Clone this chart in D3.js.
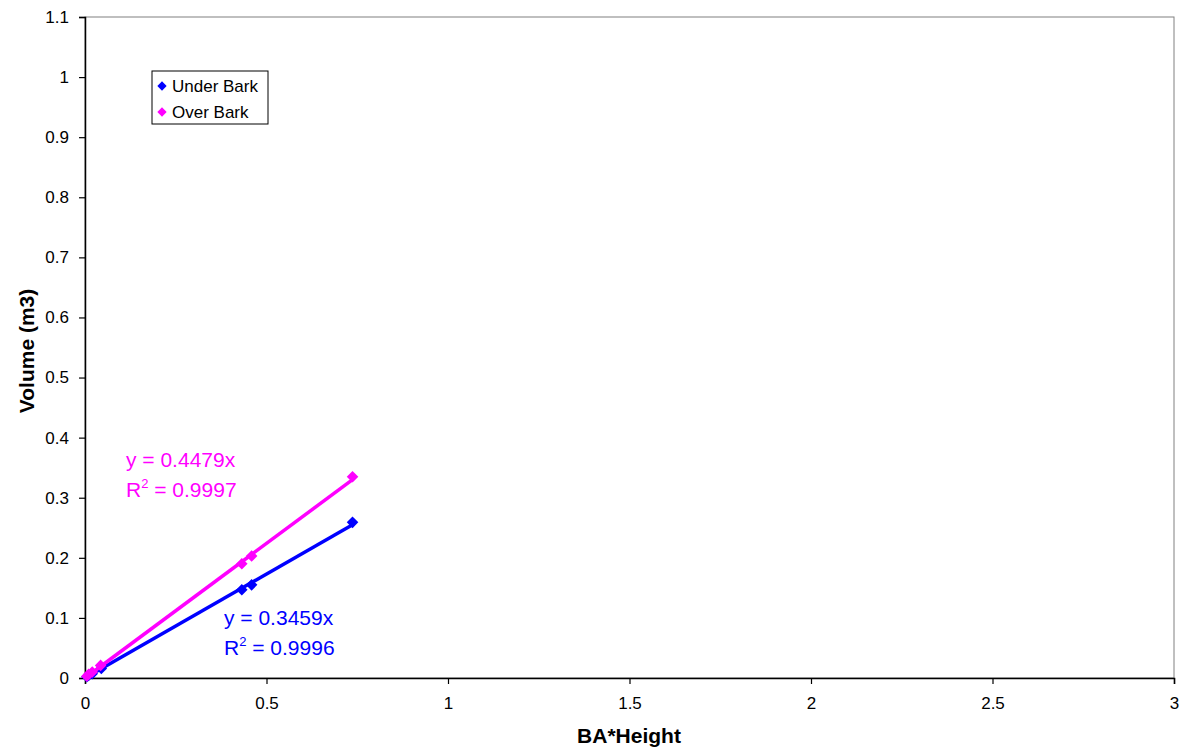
<!DOCTYPE html>
<html>
<head>
<meta charset="utf-8">
<script src="https://cdn.jsdelivr.net/npm/d3@7"></script>
<style>
  body { margin: 0; background: #fff; }
  svg text { font-family: Arial, "Liberation Sans", sans-serif; }
</style>
</head>
<body>
<div id="chart"></div>
<script>
// data
const underBark = [
    {x: 0.005, y: 0.002}, {x: 0.010, y: 0.004}, {x: 0.020, y: 0.007},
    {x: 0.045, y: 0.016}, {x: 0.432, y: 0.147}, {x: 0.459, y: 0.155},
    {x: 0.737, y: 0.259}
];
const overBark = [
    {x: 0.005, y: 0.003}, {x: 0.010, y: 0.006}, {x: 0.020, y: 0.010},
    {x: 0.043, y: 0.021}, {x: 0.432, y: 0.190}, {x: 0.459, y: 0.203},
    {x: 0.737, y: 0.335}
];
const slopes = {under: 0.3459, over: 0.4479};
const xTicks = [0, 0.5, 1, 1.5, 2, 2.5, 3];
const yTicks = [0, 0.1, 0.2, 0.3, 0.4, 0.5, 0.6, 0.7, 0.8, 0.9, 1, 1.1];

const W = 1189, H = 749;
const margin = {top: 17, right: 15, bottom: 71, left: 85};
const width = W - margin.left - margin.right;
const height = H - margin.top - margin.bottom;

const svg = d3.select("#chart").append("svg")
    .attr("width", W).attr("height", H);
const g = svg.append("g").attr("transform", `translate(${margin.left},${margin.top})`);

const x = d3.scaleLinear().domain([0, 3]).range([0, width]);
const y = d3.scaleLinear().domain([0, 1.1]).range([height, 0]);

// plot area frame (grey top/right)
g.append("rect")
    .attr("width", width).attr("height", height)
    .attr("fill", "none").attr("stroke", "#808080").attr("stroke-width", 1);

const xAxis = g.append("g")
    .attr("transform", `translate(0,${height})`)
    .call(d3.axisBottom(x).tickValues(xTicks).tickSize(6).tickPadding(13).tickFormat(d3.format("")));
const yAxis = g.append("g")
    .call(d3.axisLeft(y).tickValues(yTicks).tickSize(6).tickPadding(10).tickFormat(d3.format("")));
[xAxis, yAxis].forEach(a => {
    a.select(".domain").attr("stroke", "#000").attr("stroke-width", 1.5);
    a.selectAll(".tick line").attr("stroke", "#000").attr("stroke-width", 1.2);
    a.selectAll("text").style("font-size", "17px").attr("fill", "#000")
        .style("font-family", "Arial, 'Liberation Sans', sans-serif");
});

// axis titles
svg.append("text")
    .attr("x", 629).attr("y", 743)
    .attr("text-anchor", "middle")
    .style("font-size", "21px").style("font-weight", "bold")
    .text("BA*Height");
svg.append("text")
    .attr("transform", `translate(34,351) rotate(-90)`)
    .attr("text-anchor", "middle")
    .style("font-size", "21px").style("font-weight", "bold")
    .text("Volume (m3)");

const series = [
    {name: "Under Bark", data: underBark, slope: slopes.under, color: "#0000ff"},
    {name: "Over Bark", data: overBark, slope: slopes.over, color: "#ff00ff"}
];

const diamond = d3.symbol().type(d3.symbolDiamond2).size(85);

series.forEach(s => {
    const xmax = d3.max(s.data, d => d.x);
    g.append("line")
        .attr("x1", x(0)).attr("y1", y(0))
        .attr("x2", x(xmax)).attr("y2", y(s.slope * xmax))
        .attr("stroke", s.color).attr("stroke-width", 3.5);
    g.selectAll(null).data(s.data).enter().append("path")
        .attr("d", diamond)
        .attr("transform", d => `translate(${x(d.x)},${y(d.y)})`)
        .attr("fill", s.color);
});

// trendline labels
function eqLabel(px, py, slope, r2, color) {
    g.append("text").attr("x", px).attr("y", py)
        .attr("fill", color).style("font-size", "21px")
        .text(`y = ${slope}x`);
    const t2 = g.append("text").attr("x", px).attr("y", py + 30)
        .attr("fill", color).style("font-size", "21px");
    t2.append("tspan").text("R");
    t2.append("tspan").attr("dy", -9).style("font-size", "13px").text("2");
    t2.append("tspan").attr("dy", 9).text(` = ${r2}`);
}
eqLabel(126 - margin.left, 467 - margin.top, slopes.over, "0.9997", "#ff00ff");
eqLabel(224 - margin.left, 625 - margin.top, slopes.under, "0.9996", "#0000ff");

// legend
const lg = svg.append("g").attr("transform", "translate(152,71)");
lg.append("rect").attr("width", 116).attr("height", 53)
    .attr("fill", "#fff").attr("stroke", "#000").attr("stroke-width", 1);
series.forEach((s, i) => {
    const row = lg.append("g").attr("transform", `translate(10,${15 + i * 26})`);
    row.append("path").attr("d", d3.symbol().type(d3.symbolDiamond2).size(55)).attr("fill", s.color);
    row.append("text").attr("x", 10).attr("y", 6).style("font-size", "17px").text(s.name);
});
</script>
</body>
</html>
